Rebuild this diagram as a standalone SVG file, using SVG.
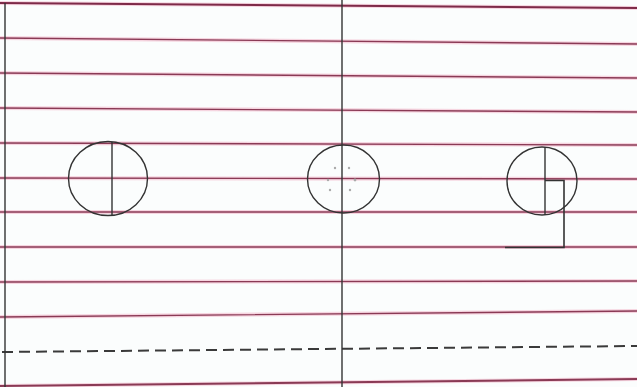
<svg xmlns="http://www.w3.org/2000/svg" width="637" height="387" viewBox="0 0 637 387">
<style>
.halo{stroke:#f3c3d3;stroke-width:4;fill:none;opacity:0.7}
.rule{stroke:#8a3a55;stroke-width:1.4;fill:none}
.ink{stroke:#333;stroke-width:1.4;fill:none}
.dash{stroke:#3a3a3a;stroke-width:2;fill:none;stroke-dasharray:11 6}
.dot{fill:#aaa}
</style>
<rect width="637" height="387" fill="#fbfdfd"/>
<g id="rules">
<path class="halo" d="M0 3 L637 8 M0 38 L637 44 M0 73 L637 78 M0 108 L637 112 M0 143 L637 145 M0 178 L637 179 M0 212 L637 212 M0 247 L637 247 M0 282 L637 281 M0 317 L637 311 M0 386 L637 379"/>
<path class="rule" d="M0 3 L637 8" style="stroke-width:2.2;stroke:#7e2a48"/>
<path class="rule" d="M0 38 L637 44 M0 73 L637 78 M0 108 L637 112 M0 143 L637 145 M0 178 L637 179 M0 212 L637 212 M0 247 L637 247 M0 282 L637 281 M0 317 L637 311"/>
<path class="rule" d="M0 386 L637 379" style="stroke-width:2"/>
<path class="dash" d="M2 352 L637 346"/>
</g>
<g id="connectors">
<line class="ink" x1="5" y1="3" x2="5" y2="387"/>
<line class="ink" x1="342" y1="0" x2="342" y2="387"/>
</g>
<g id="circle-left">
<ellipse class="ink" cx="108" cy="178.5" rx="39.5" ry="37"/>
<line class="ink" x1="112" y1="142" x2="112" y2="215"/>
</g>
<g id="circle-middle">
<ellipse class="ink" cx="343.5" cy="179" rx="36" ry="34"/>
<circle class="dot" cx="335" cy="168" r="1.2"/>
<circle class="dot" cx="349" cy="168" r="1.2"/>
<circle class="dot" cx="328" cy="180" r="1.2"/>
<circle class="dot" cx="355" cy="180" r="1.4"/>
<circle class="dot" cx="330" cy="190" r="1.2"/>
<circle class="dot" cx="350" cy="190" r="1.2"/>
</g>
<g id="circle-right">
<ellipse class="ink" cx="542" cy="181" rx="35" ry="34"/>
<line class="ink" x1="545" y1="147" x2="545" y2="215"/>
<path class="ink" d="M545 180.5 L564 180.5 L564 247.5 L505 247.5" style="stroke-width:1.6"/>
</g>
</svg>
